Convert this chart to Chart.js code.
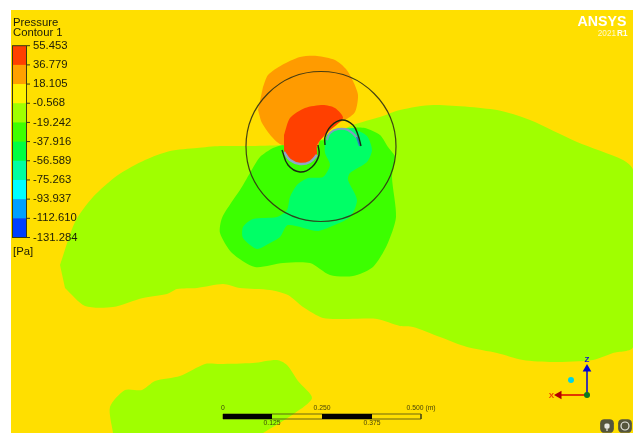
<!DOCTYPE html>
<html>
<head>
<meta charset="utf-8">
<style>
  html, body { margin: 0; padding: 0; background: #fff; }
  canvas { display: block; filter: blur(0.35px); }
</style>
<script src="https://cdn.jsdelivr.net/npm/chart.js@4/dist/chart.umd.min.js"></script>
</head>
<body>
<canvas id="chart" width="633" height="433"></canvas>
<script>
// legend
const legendTitle = ['Pressure', 'Contour 1'];
const legendValues = ['55.453', '36.779', '18.105', '-0.568', '-19.242', '-37.916', '-56.589', '-75.263', '-93.937', '-112.610', '-131.284'];
const legendColors = ['#ff4000', '#ffa000', '#fff200', '#a0ff00', '#40ff00', '#00ff40', '#00ffa0', '#00ffff', '#00a0ff', '#0040ff'];
const legendUnit = '[Pa]';

// contour outlines in screen units
const panel = [[11, 10], [633, 10], [633, 433], [11, 433]];
const limeMain = [[60, 265], [75, 222], [93, 197], [118, 175], [145, 160], [170, 151], [197, 148], [220, 146], [247, 146], [283, 145], [320, 140], [353, 125], [380, 117], [400, 110], [433, 105], [497, 110], [530, 120], [577, 142], [623, 160], [633, 170], [633, 347], [613, 353], [593, 360], [553, 362], [523, 360], [497, 353], [467, 347], [440, 337], [413, 327], [400, 326], [377, 319], [347, 319], [323, 318], [303, 307], [288, 295], [270, 290], [240, 288], [223, 284], [197, 288], [177, 289], [167, 294], [143, 298], [113, 307], [85, 306], [65, 288]];
const limeBottom = [[113, 433], [110, 407], [125, 390], [142, 390], [155, 381], [180, 376], [205, 364], [220, 364], [253, 363], [277, 360], [287, 365], [298, 381], [312, 398], [295, 413], [263, 433]];
const greenBlob = [[283, 145], [273, 148], [260, 157], [250, 173], [240, 190], [233, 200], [222, 218], [220, 233], [232, 253], [255, 267], [283, 263], [310, 263], [330, 275], [353, 276], [373, 267], [387, 245], [396, 217], [392, 177], [395, 157], [388, 147], [380, 135], [365, 128], [353, 128], [325, 140]];
const springBlob = [[337, 129], [327, 135], [325, 143], [325, 153], [330, 165], [323, 177], [308, 178], [297, 185], [290, 197], [287, 210], [277, 217], [253, 219], [243, 227], [243, 238], [257, 249], [270, 243], [280, 237], [288, 225], [317, 231], [330, 227], [350, 217], [357, 200], [348, 180], [350, 173], [367, 162], [372, 150], [367, 136], [353, 128]];
const orangeBlob = [[263, 87], [268, 75], [282, 65], [300, 57], [317, 56], [335, 60], [346, 69], [353, 81], [358, 95], [355, 112], [345, 120], [327, 128], [320, 140], [317, 147], [282, 145], [272, 137], [262, 123], [258, 110]];
const redBlob = [[284, 135], [290, 118], [305, 108], [323, 105], [335, 108], [343, 118], [328, 132], [317, 145], [317, 155], [310, 162], [300, 164], [290, 160], [284, 152]];
const lowerBand = [[284, 152], [290, 160], [300, 164], [310, 162], [317, 155]];
const upperBand = [[327, 140], [330, 133], [338, 129], [348, 130], [357, 138], [360, 146]];
const upperBandEnd = [[357, 137], [360, 146]];
const lowerArc = [[282, 150], [288, 165], [300, 172], [312, 167], [319, 155], [318, 145]];
const upperArc = [[325, 145], [325, 137], [331, 126], [342, 120], [353, 125], [358, 135], [361, 146]];
const bigCircle = [{ x: 321, y: 146.5 }];

// scale bar
const scaleTop = ['0', '0.250', '0.500 (m)'];
const scaleBottom = ['0.125', '0.375'];
const scaleBlack = [[[223, 416.5], [272, 416.5]], [[322, 416.5], [372, 416.5]]];
const scaleFrame = [[223, 414], [421, 414], [421, 419], [223, 419]];

// axis triad
const axisZ = [[587, 395], [587, 369]];
const axisX = [[587, 395], [559, 395]];
const axisOrigin = [{ x: 587, y: 395 }];
const viewDot = [{ x: 571, y: 380 }];

// corner buttons
const buttons = [{ x: 607, y: 426 }, { x: 625, y: 426 }];

const toPts = arr => arr.map(p => ({ x: p[0], y: p[1] }));

function area(name, pts, color, tension) {
    return {
        label: name, data: toPts(pts), backgroundColor: color, borderColor: color,
        borderWidth: 0, fill: 'shape', pointRadius: 0, tension: tension === undefined ? 0.25 : tension
    };
}

function stroke(name, pts, color, width, tension) {
    return {
        label: name, data: toPts(pts), borderColor: color, borderWidth: width,
        fill: false, pointRadius: 0, tension: tension || 0
    };
}

function dots(name, pts, opts) {
    return Object.assign({ label: name, data: pts, showLine: false, fill: false }, opts);
}

// listed bottom layer first, flipped before handing to the chart
const layers = [
    area('panel', panel, '#ffdf00', 0),
    area('lime', limeMain, '#a0ff00'),
    area('lime2', limeBottom, '#a0ff00'),
    area('green', greenBlob, '#3cff00'),
    area('spring', springBlob, '#00ff66'),
    area('orange', orangeBlob, '#ff9b00'),
    area('red', redBlob, '#ff4000'),
    stroke('bandLow', lowerBand, '#8fa6c8', 2.5, 0.4),
    stroke('bandUp', upperBand, '#7f9fc0', 2, 0.4),
    stroke('bandEnd', upperBandEnd, '#2080c0', 2),
    stroke('arcLow', lowerArc, '#1a2a10', 1.4, 0.4),
    stroke('arcUp', upperArc, '#1a2a10', 1.4, 0.4),
    dots('circle', bigCircle, { pointRadius: 75, pointBackgroundColor: 'transparent', pointBorderColor: 'rgba(50,50,20,0.9)', pointBorderWidth: 1.2 }),
    stroke('frame', scaleFrame.concat([scaleFrame[0]]), 'rgba(70,70,20,0.8)', 1),
    stroke('bar1', scaleBlack[0], '#000', 5),
    stroke('bar2', scaleBlack[1], '#000', 5),
    stroke('axisZ', axisZ, '#0000d8', 1.5),
    stroke('axisX', axisX, '#d80000', 1.5),
    dots('headZ', [toPts(axisZ)[1]], { pointStyle: 'triangle', pointRadius: 5, pointBackgroundColor: '#0000d8', pointBorderWidth: 0 }),
    dots('headX', [toPts(axisX)[1]], { pointStyle: 'triangle', pointRotation: -90, pointRadius: 5, pointBackgroundColor: '#b00000', pointBorderWidth: 0 }),
    dots('origin', axisOrigin, { pointRadius: 3, pointBackgroundColor: '#0a7a20', pointBorderWidth: 0 }),
    dots('view', viewDot, { pointRadius: 3, pointBackgroundColor: '#00d4e8', pointBorderWidth: 0 }),
    dots('buttons', buttons, { pointStyle: 'rectRounded', pointRadius: 8, pointBackgroundColor: '#55553c', pointBorderWidth: 0 }),
    dots('mic', [buttons[0]], { pointStyle: 'rectRounded', pointRadius: 3, pointBackgroundColor: '#e8e8e0', pointBorderWidth: 0 }),
    dots('spin', [buttons[1]], { pointRadius: 4, pointBackgroundColor: 'transparent', pointBorderColor: '#e8e8e0', pointBorderWidth: 1.2 })
];

// colour key and all lettering, placed through the same scales
const overlay = {
    id: 'overlay',
    afterDatasetsDraw(chart) {
        const ctx = chart.ctx;
        const sx = chart.scales.x, sy = chart.scales.y;
        const X = v => sx.getPixelForValue(v), Y = v => sy.getPixelForValue(v);
        const barTop = 45.7, step = 19.18;
        ctx.save();
        legendColors.forEach((c, i) => {
            ctx.fillStyle = c;
            ctx.fillRect(X(13), Y(barTop + i * step), X(27) - X(13), step + 0.5);
        });
        ctx.strokeStyle = '#3a3a10';
        ctx.lineWidth = 1;
        ctx.strokeRect(X(12.5), Y(barTop), X(26.5) - X(12.5), step * 10);
        ctx.textBaseline = 'middle';
        ctx.textAlign = 'left';
        ctx.fillStyle = '#1c1c08';
        ctx.font = '11.3px "Liberation Sans"';
        legendValues.forEach((t, i) => {
            const y = barTop + i * step;
            ctx.beginPath();
            ctx.moveTo(X(27), Y(y));
            ctx.lineTo(X(30), Y(y));
            ctx.stroke();
            ctx.fillText(t, X(33), Y(y));
        });
        ctx.fillText(legendTitle[0], X(13), Y(22.5));
        ctx.fillText(legendTitle[1], X(13), Y(33));
        ctx.fillText(legendUnit, X(13), Y(251.5));

        // scale bar labels
        ctx.font = '6.8px "Liberation Sans"';
        ctx.fillStyle = 'rgba(40,40,10,0.85)';
        ctx.textAlign = 'center';
        ctx.fillText(scaleTop[0], X(223), Y(408.5));
        ctx.fillText(scaleTop[1], X(322), Y(408.5));
        ctx.fillText(scaleBottom[0], X(272), Y(423.5));
        ctx.fillText(scaleBottom[1], X(372), Y(423.5));
        ctx.textAlign = 'left';
        ctx.fillText(scaleTop[2], X(406.5), Y(408.5));

        // triad letters
        ctx.textAlign = 'center';
        ctx.font = 'bold 8px "Liberation Sans"';
        ctx.fillStyle = '#1010d0';
        ctx.fillText('Z', X(587), Y(360));
        ctx.fillStyle = '#f04000';
        ctx.fillText('X', X(551.5), Y(395.5));

        // logo
        ctx.textAlign = 'right';
        ctx.fillStyle = '#ffffff';
        ctx.font = 'bold 14.2px "Liberation Sans"';
        ctx.fillText('ANSYS', X(626.5), Y(22.5));
        ctx.font = 'bold 8.2px "Liberation Sans"';
        ctx.fillStyle = 'rgba(255,255,255,0.95)';
        ctx.fillText('R1', X(627.5), Y(34));
        ctx.font = '8.2px "Liberation Sans"';
        ctx.fillStyle = 'rgba(255,255,255,0.8)';
        ctx.fillText('2021', X(616), Y(34));

        // mic stem
        ctx.strokeStyle = '#e8e8e0';
        ctx.lineWidth = 1.2;
        ctx.beginPath();
        ctx.moveTo(X(607), Y(428));
        ctx.lineTo(X(607), Y(431));
        ctx.stroke();
        ctx.restore();
    }
};

const chart = new Chart(document.getElementById('chart').getContext('2d'), {
    type: 'line',
    data: { datasets: layers.slice().reverse() },
    options: {
        responsive: false,
        animation: false,
        parsing: false,
        normalized: false,
        layout: { padding: 0, autoPadding: false },
        plugins: { legend: { display: false }, tooltip: { enabled: false }, title: { display: false } },
        scales: {
            x: { type: 'linear', min: 0, max: 633, display: false },
            y: { type: 'linear', min: 0, max: 433, reverse: true, display: false }
        }
    },
    plugins: [overlay]
});
</script>
</body>
</html>
